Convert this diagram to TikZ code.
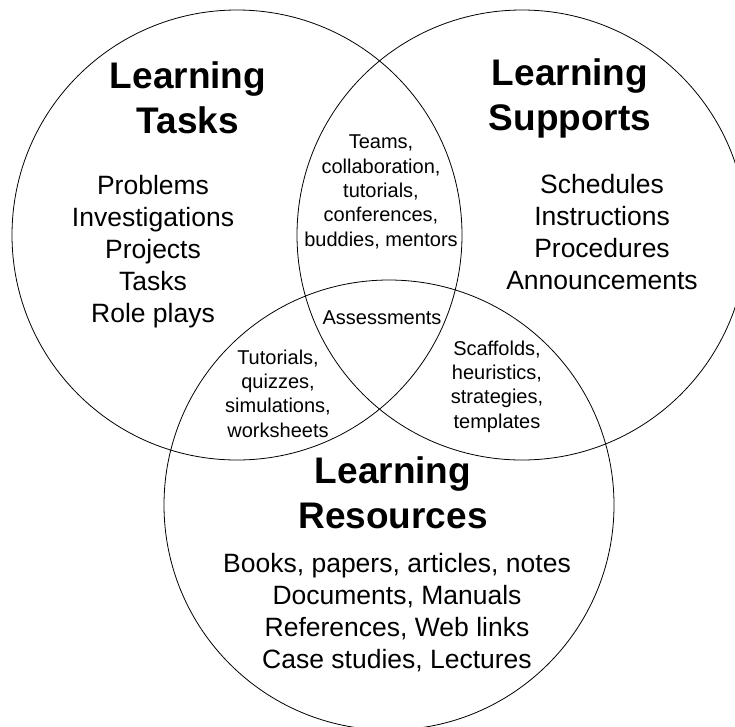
\documentclass[tikz,border=0pt]{standalone}
\usepackage{fontspec}
\setmainfont{Liberation Sans}
\tikzset{
  ring/.style={circle, draw, line width=0.8pt, minimum size=450pt, inner sep=0pt},
  head/.style={align=center, anchor=base, font=\bfseries\fontsize{37}{45}\selectfont},
  list/.style={align=center, anchor=base, font=\fontsize{26.5}{32}\selectfont},
  small/.style={align=center, anchor=base, font=\fontsize{20}{24.3}\selectfont}
}

\begin{document}
\begin{tikzpicture}[x=1pt,y=-1pt]
        \useasboundingbox (0,0) rectangle (735,726);
        \clip (0,0) rectangle (735,726);
        % the three sets
        \path (237,235) node[ring] (tasks) {}
        (522,235) node[ring] (supports) {}
        (389,505) node[ring] (resources) {};
        % set titles and contents (placed at the last baseline)
        \path (188,133) node[head] (taskshead) {Learning\\Tasks}
        (153,322) node[list] (tasklist) {Problems\\Investigations\\Projects\\Tasks\\Role plays}
        (570,130) node[head] (supphead) {Learning\\Supports}
        (602,289) node[list] (supplist) {Schedules\\Instructions\\Procedures\\Announcements}
        (393,528) node[head] (reshead) {Learning\\Resources}
        (397,668) node[list] (reslist) {Books, papers, articles, notes\\Documents, Manuals\\References, Web links\\Case studies, Lectures};
        % overlaps
        \path (381,246) node[small] (teams) {Teams,\\collaboration,\\tutorials,\\conferences,\\buddies, mentors}
        (382,324) node[small] (assess) {Assessments}
        (278,437) node[small] (tutorials) {Tutorials,\\quizzes,\\simulations,\\worksheets}
        (497,428) node[small] (scaffolds) {Scaffolds,\\heuristics,\\strategies,\\templates};
\end{tikzpicture}
\end{document}
